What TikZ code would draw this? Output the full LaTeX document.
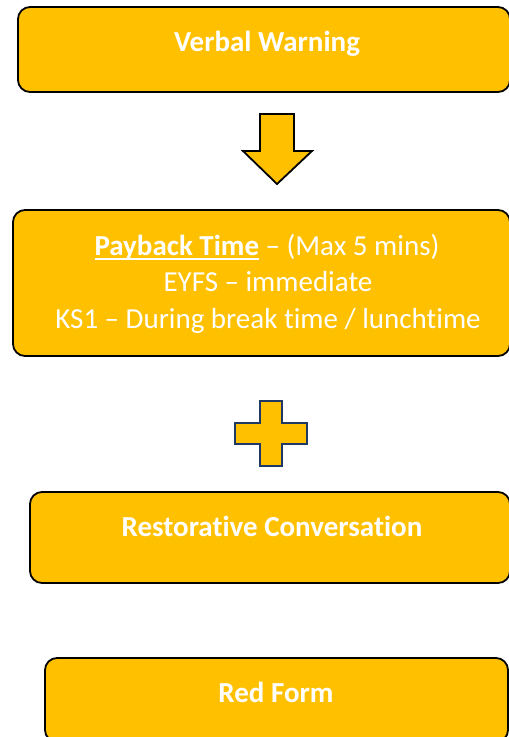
\documentclass[tikz,border=0pt]{standalone}
\usepackage{fontspec}
\setmainfont{Carlito}[Ligatures=NoCommon]
\definecolor{gold}{HTML}{FFC000}
\definecolor{navy}{HTML}{1F3864}
\newcommand\myul[1]{\setbox0\hbox{#1}\rlap{\rule[-4.5pt]{\wd0}{1.6pt}}\box0\relax}
\begin{document}
\begin{tikzpicture}[x=1pt,y=-1pt,
  box/.style={draw=black, line width=1.8pt, fill=gold, rectangle, rounded corners=12pt, inner sep=0pt},
  txt/.style={text=white, inner sep=0pt, anchor=base, font=\fontsize{29}{36}\selectfont},
  bold/.style={txt, font=\fontsize{29}{36}\selectfont\bfseries}]
\useasboundingbox (0,0) rectangle (509,737);
\clip (0,0) rectangle (509,737);
% boxes
\node[box, minimum width=492pt, minimum height=85pt] (b1) at (264,49.5) {};
\node[box, minimum width=497pt, minimum height=146pt] (b2) at (261.5,283) {};
\node[box, minimum width=480pt, minimum height=91pt] (b3) at (270,537.5) {};
\node[box, minimum width=463pt, minimum height=84pt] (b4) at (276.5,700) {};
% texts
\node[bold] (t1) at (267,51) {Verbal Warning};
\node[txt] (p1) at (267,255) {\myul{\textbf{Payback Time}} – (Max 5 mins)};
\node[txt] (p2) at (268,291.5) {EYFS – immediate};
\node[txt] (p3) at (268,328) {KS1 – During break time / lunchtime};
\node[bold] (t3) at (272,536) {Restorative Conversation};
\node[bold] (t4) at (276,702) {Red Form};
% down arrow
\draw[line width=1.8pt, fill=gold, line join=miter] (260,114) -- (294,114) -- (294,151) -- (312,151) -- (277,184) -- (243,151) -- (260,151) -- cycle;
% plus
\draw[line width=2.4pt, draw=navy, fill=gold, line join=miter] (260,401) -- (282,401) -- (282,423) -- (307,423) -- (307,444) -- (282,444) -- (282,466) -- (260,466) -- (260,444) -- (235,444) -- (235,423) -- (260,423) -- cycle;
\end{tikzpicture}
\end{document}
